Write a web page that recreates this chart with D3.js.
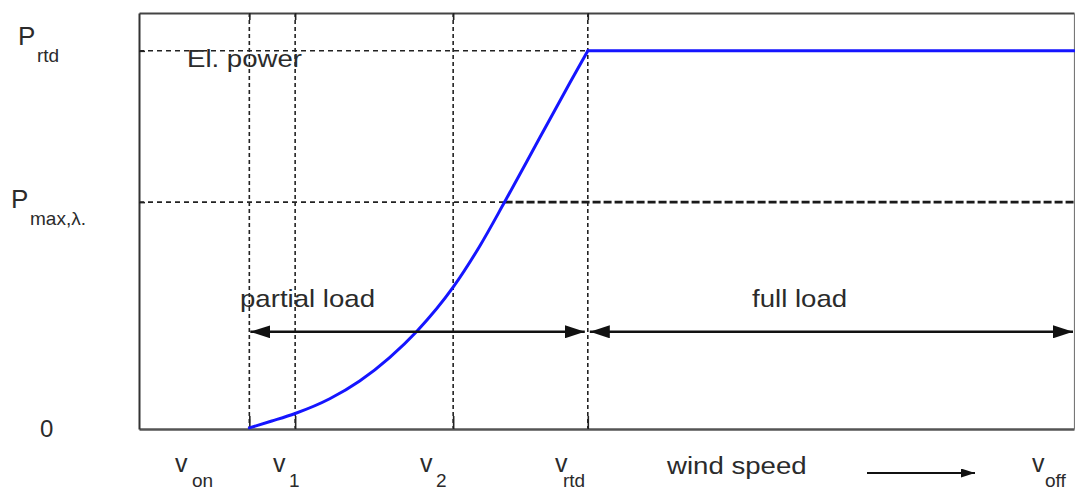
<!DOCTYPE html>
<html>
<head>
<meta charset="utf-8">
<script src="https://cdn.jsdelivr.net/npm/d3@7"></script>
<style>
  html, body { margin: 0; padding: 0; background: #fff; }
  svg { display: block; }
  text { font-family: "Liberation Sans", Arial, sans-serif; fill: #2b2b2b; }
</style>
</head>
<body>
<svg id="chart" width="1075" height="491"></svg>
<script>
// Characteristic wind speeds (axis units)
const speedSubs = ["on", "1", "2", "rtd", "off"];
const speedValues = [11.8, 16.7, 33.6, 48.0, 100];

// Characteristic power levels (relative to rated power)
const powerSubs = ["rtd", "max,\u03bb."];
const powerValues = [1.0, 0.60];

// Electrical power curve: wind speed -> power (partial load part)
const curveSpeed = [11.8, 14.2, 16.7, 20.4, 23.6, 26.8, 29.7, 33.6, 36.5, 39.1, 42.9, 46.1, 48.0];
const curvePower = [0.003, 0.021, 0.041, 0.080, 0.127, 0.189, 0.258, 0.375, 0.486, 0.60, 0.772, 0.916, 1.0];
// full load part: rated power up to cut-out speed
const ratedSpeed = [48.0, 100];
const ratedPower = [1.0, 1.0];

// Operating regions
const regionNames = ["partial load", "full load"];
const regionFrom = [11.8, 48.0];
const regionTo = [48.0, 100];
const regionLevel = 0.257;

// ---- layout ----
const svg = d3.select("#chart");
const x = d3.scaleLinear().domain([0, 100]).range([139, 1074]);
const y = d3.scaleLinear().domain([0, 1.1]).range([429, 13]);
const stretch = 1.15;

const defs = svg.append("defs");
function marker(id, len, half) {
  defs.append("marker")
    .attr("id", id).attr("viewBox", `0 ${-half} ${len} ${2 * half}`)
    .attr("refX", len).attr("refY", 0)
    .attr("markerWidth", len).attr("markerHeight", 2 * half)
    .attr("markerUnits", "userSpaceOnUse").attr("orient", "auto-start-reverse")
    .append("path").attr("d", `M0,${-half}L${len},0L0,${half}Z`).attr("fill", "#111");
}
marker("head", 20, 6.5);
marker("headSmall", 14, 4.5);

// vertical grid lines at characteristic speeds
svg.append("g").selectAll("line")
  .data(speedValues.slice(0, 4)).join("line")
  .attr("x1", d => x(d)).attr("x2", d => x(d))
  .attr("y1", y.range()[1]).attr("y2", y.range()[0])
  .attr("stroke", "#222").attr("stroke-width", 1.6).attr("stroke-dasharray", "4,3");

// horizontal grid lines at rated power and max. power
svg.append("line")
  .attr("x1", x(0)).attr("x2", x(speedValues[3]))
  .attr("y1", y(powerValues[0])).attr("y2", y(powerValues[0]))
  .attr("stroke", "#222").attr("stroke-width", 1.6).attr("stroke-dasharray", "5,4");
svg.append("line")
  .attr("x1", x(0)).attr("x2", x(39.1))
  .attr("y1", y(powerValues[1])).attr("y2", y(powerValues[1]))
  .attr("stroke", "#222").attr("stroke-width", 1.6).attr("stroke-dasharray", "5,4");
// max. power level beyond the curve crossing
svg.append("line")
  .attr("x1", x(39.1)).attr("x2", x(100))
  .attr("y1", y(powerValues[1])).attr("y2", y(powerValues[1]))
  .attr("stroke", "#1a1a1a").attr("stroke-width", 2.6).attr("stroke-dasharray", "8,3");

// frame with inward ticks
const axisStyle = g => {
  g.selectAll("text").remove();
  g.selectAll("line").attr("stroke", "#222").attr("stroke-width", 1.6);
};
svg.append("g").attr("transform", `translate(0,${y(0)})`)
  .call(d3.axisBottom(x).tickValues(speedValues.slice(0, 4)).tickSizeInner(-13).tickSizeOuter(0))
  .call(axisStyle)
  .call(g => g.select(".domain").attr("stroke", "#555").attr("stroke-width", 2.6));
svg.append("g").attr("transform", `translate(0,${y(1.1)})`)
  .call(d3.axisTop(x).tickValues(speedValues.slice(0, 4)).tickSizeInner(-7).tickSizeOuter(0))
  .call(axisStyle)
  .call(g => g.select(".domain").attr("stroke", "#444").attr("stroke-width", 2));
svg.append("g").attr("transform", `translate(${x(0)},0)`)
  .call(d3.axisLeft(y).tickValues(powerValues).tickSizeInner(-6).tickSizeOuter(0))
  .call(axisStyle)
  .call(g => g.select(".domain").attr("stroke", "#333").attr("stroke-width", 2));
svg.append("g").attr("transform", `translate(${x(100)},0)`)
  .call(d3.axisRight(y).tickValues([]).tickSizeOuter(0))
  .call(axisStyle)
  .call(g => g.select(".domain").attr("stroke", "#777").attr("stroke-width", 1.2));

// electrical power curve
const partial = curveSpeed.map((s, i) => [s, curvePower[i]]);
const full = ratedSpeed.map((s, i) => [s, ratedPower[i]]);
const curveColor = "#1515ff";
svg.append("path")
  .datum(partial)
  .attr("d", d3.line().x(d => x(d[0])).y(d => y(d[1])).curve(d3.curveMonotoneX))
  .attr("fill", "none").attr("stroke", curveColor).attr("stroke-width", 3)
  .attr("stroke-linecap", "round");
svg.append("path")
  .datum(full)
  .attr("d", d3.line().x(d => x(d[0])).y(d => y(d[1])))
  .attr("fill", "none").attr("stroke", curveColor).attr("stroke-width", 3)
  .attr("stroke-linecap", "round");

// operating region arrows
regionNames.forEach((name, i) => {
  const a = x(regionFrom[i]) + (i === 0 ? 1 : 2);
  const b = x(regionTo[i]) - (i === 0 ? 3 : 1);
  svg.append("line")
    .attr("x1", a).attr("x2", b)
    .attr("y1", y(regionLevel)).attr("y2", y(regionLevel))
    .attr("stroke", "#111").attr("stroke-width", 2.6)
    .attr("marker-start", "url(#head)").attr("marker-end", "url(#head)");
});

// text helpers
function label(px, py, txt, size, sx) {
  svg.append("text")
    .attr("transform", `translate(${px},${py}) scale(${sx},1)`)
    .attr("font-size", size).text(txt);
}

// region labels and curve name
label(240, 307, regionNames[0], 24, stretch);
label(752, 307, regionNames[1], 24, stretch);
label(187, 67, "El. power", 24, stretch);

// power level labels
const pLabel = [
  { px: 18, py: 45, sx: 37, sy: 62 },
  { px: 11, py: 208, sx: 30, sy: 225 }
];
powerSubs.forEach((sub, i) => {
  const p = pLabel[i];
  label(p.px, p.py, "P", 26, 1.0);
  label(p.sx, p.sy, sub, 19, 1.0);
});
label(40, 437, "0", 24, 1.0);

// speed labels
const vLabel = [
  { vx: 175, sx: 192 },
  { vx: 273, sx: 289 },
  { vx: 420, sx: 436 },
  { vx: 555, sx: 563 },
  { vx: 1032, sx: 1045 }
];
speedSubs.forEach((sub, i) => {
  const p = vLabel[i];
  label(p.vx, 472, "v", 25, 1.0);
  label(p.sx, 487, sub, 19, 1.0);
});

label(667, 474, "wind speed", 24, stretch);
svg.append("line")
  .attr("x1", 867).attr("x2", 975).attr("y1", 473).attr("y2", 473)
  .attr("stroke", "#111").attr("stroke-width", 2)
  .attr("marker-end", "url(#headSmall)");
</script>
</body>
</html>
